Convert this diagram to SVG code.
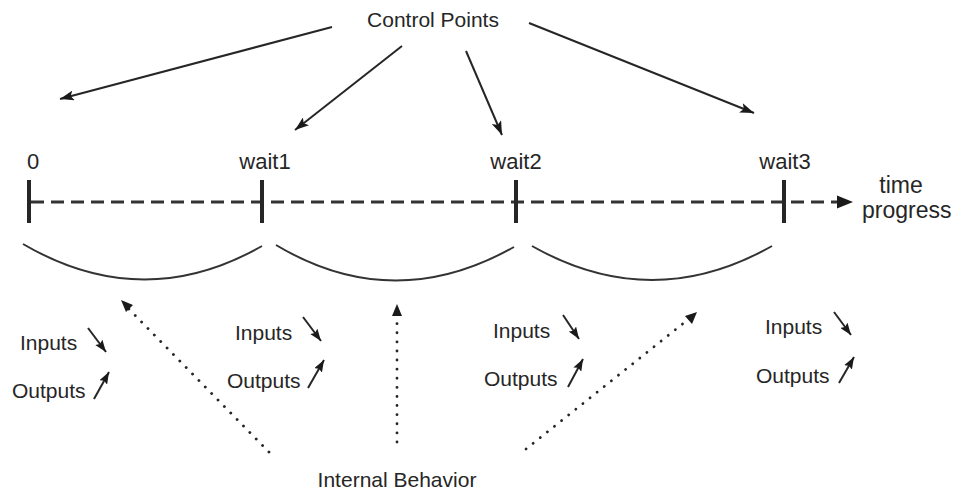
<svg xmlns="http://www.w3.org/2000/svg" width="955" height="493" viewBox="0 0 955 493">
<defs>
<style>
text{font-family:"Liberation Sans",Arial,sans-serif;fill:#262626}
.t21{font-size:21px}
.t22{font-size:22px}
.t23{font-size:23px}
.line{stroke:#262626;stroke-width:2;fill:none}
.dot{stroke:#262626;stroke-width:2.8;fill:none;stroke-dasharray:0.1 9;stroke-linecap:round}
.arc{stroke:#333;stroke-width:2;fill:none}
.tick{stroke:#262626;stroke-width:4}
.axis{stroke:#333;stroke-width:3;stroke-dasharray:13 7;fill:none}
</style>
<marker id="ah" viewBox="0 0 14 10" refX="14" refY="5" markerWidth="14" markerHeight="10" markerUnits="userSpaceOnUse" orient="auto">
<path d="M0 0 L14 5 L0 10 L3 5 Z" fill="#1a1a1a"/>
</marker>
<marker id="ahs" viewBox="0 0 12 9" refX="12" refY="4.5" markerWidth="12" markerHeight="9" markerUnits="userSpaceOnUse" orient="auto">
<path d="M0 0 L12 4.5 L0 9 L2 4.5 Z" fill="#1a1a1a"/>
</marker>
</defs>

<g id="control-points"><text class="t21" x="433" y="27" text-anchor="middle">Control Points</text></g>
<g id="internal-behavior"><text class="t21" x="397" y="487" text-anchor="middle">Internal Behavior</text></g>

<g id="timeline">
<line class="axis" x1="31" y1="202" x2="838" y2="202"/>
<path d="M837 195.5 L853 202 L837 208.5 Z" fill="#1a1a1a"/>
<line class="tick" x1="29" y1="180" x2="29" y2="223"/>
<line class="tick" x1="262" y1="180" x2="262" y2="223"/>
<line class="tick" x1="516" y1="180" x2="516" y2="223"/>
<line class="tick" x1="784" y1="180" x2="784" y2="223"/>
</g>

<g id="label-0"><text class="t22" x="33" y="169" text-anchor="middle">0</text></g>
<g id="label-wait1"><text class="t22" x="265" y="169" text-anchor="middle">wait1</text></g>
<g id="label-wait2"><text class="t22" x="516" y="169" text-anchor="middle">wait2</text></g>
<g id="label-wait3"><text class="t22" x="785" y="169" text-anchor="middle">wait3</text></g>
<g id="time-progress">
<text class="t23" x="901" y="193" text-anchor="middle">time</text>
<text class="t23" x="862" y="218">progress</text>
</g>

<g id="intervals">
<path class="arc" d="M23 244 Q143 314 262 246"/>
<path class="arc" d="M276 245 Q393 315 514 247"/>
<path class="arc" d="M532 246 Q652 314 772 246"/>
</g>

<g id="io-1">
<text class="t21" x="20" y="350">Inputs</text>
<text class="t21" x="12" y="398">Outputs</text>
</g>
<g id="io-2">
<text class="t21" x="235" y="340">Inputs</text>
<text class="t21" x="227" y="388">Outputs</text>
</g>
<g id="io-3">
<text class="t21" x="493" y="338">Inputs</text>
<text class="t21" x="484" y="386">Outputs</text>
</g>
<g id="io-4">
<text class="t21" x="765" y="334">Inputs</text>
<text class="t21" x="756" y="383">Outputs</text>
</g>

<g id="connectors">
<line class="line" x1="332" y1="27" x2="60" y2="99" marker-end="url(#ah)"/>
<line class="line" x1="402" y1="46" x2="295" y2="130" marker-end="url(#ah)"/>
<line class="line" x1="466" y1="51" x2="502" y2="135" marker-end="url(#ah)"/>
<line class="line" x1="529" y1="23" x2="754" y2="113" marker-end="url(#ah)"/>

<line class="dot" x1="269" y1="452" x2="126" y2="306"/>
<path d="M121 300 L133 305 L126 312 Z" fill="#1a1a1a"/>
<line class="dot" x1="397" y1="442" x2="397" y2="313"/>
<path d="M397 304 L402 316 L392 316 Z" fill="#1a1a1a"/>
<line class="dot" x1="526" y1="449" x2="690" y2="318"/>
<path d="M697 312 L692 324 L685 316 Z" fill="#1a1a1a"/>

<line class="line" x1="88" y1="328" x2="106" y2="352" marker-end="url(#ahs)"/>
<line class="line" x1="94" y1="399" x2="109" y2="372" marker-end="url(#ahs)"/>
<line class="line" x1="303" y1="317" x2="321" y2="341" marker-end="url(#ahs)"/>
<line class="line" x1="308" y1="388" x2="324" y2="360" marker-end="url(#ahs)"/>
<line class="line" x1="563" y1="315" x2="579" y2="339" marker-end="url(#ahs)"/>
<line class="line" x1="568" y1="387" x2="583" y2="359" marker-end="url(#ahs)"/>
<line class="line" x1="834" y1="312" x2="851" y2="335" marker-end="url(#ahs)"/>
<line class="line" x1="839" y1="383" x2="854" y2="357" marker-end="url(#ahs)"/>
</g>
</svg>
